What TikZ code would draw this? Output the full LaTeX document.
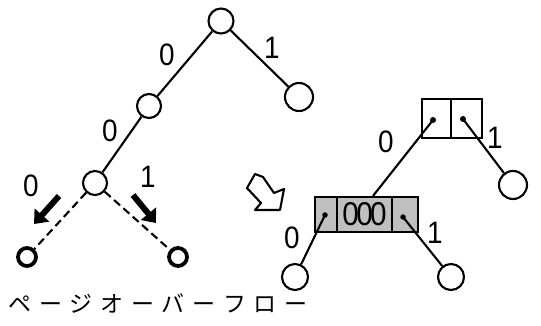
\documentclass[tikz,border=0pt]{standalone}
\usepackage{fontspec}
\setmainfont{Liberation Sans}
\newfontfamily\jp{Noto Sans CJK JP}
\usetikzlibrary{arrows.meta,calc}
\begin{document}
\begin{tikzpicture}[x=1pt,y=-1pt,
  vtx/.style={circle,draw,line width=2.1pt,inner sep=0pt,minimum size=#1},
  vtx/.default=25pt,
  leaf/.style={circle,draw,line width=3.8pt,inner sep=0pt,minimum size=18pt},
  edge/.style={line width=2.1pt},
  dashedge/.style={line width=2.1pt,dash pattern=on 8pt off 4.5pt},
  lbl/.style={font=\fontsize{31}{31}\selectfont,inner sep=0pt},
  cell/.style={draw,line width=2.1pt,inner sep=0pt,minimum height=#1},
  shade/.style={fill=black!25},
  dot/.style={circle,fill,inner sep=0pt,minimum size=6pt},
  fat/.style={line width=6pt,-{Triangle[length=12pt,width=19pt]}}
]
\useasboundingbox (0,0) rectangle (541,326);
% left tree
\node[vtx] (r) at (221,21) {};
\node[vtx=28pt] (r1) at (299,97) {};
\node[vtx=24pt] (a) at (149,106) {};
\node[vtx=24pt] (b) at (95,183) {};
\node[leaf] (l0) at (27,257) {};
\node[leaf] (l1) at (178,257) {};
\draw[edge] (r) -- (r1);
\draw[edge] (r) -- (a);
\draw[edge] (a) -- (b);
\draw[dashedge] (b) -- (l0);
\draw[dashedge] (b) -- (l1);
\node[lbl] (t0) at (167,55) {\scalebox{0.9}[1]{0}};
\node[lbl] (t1) at (272,48) {\scalebox{0.9}[1]{1}};
\node[lbl] (t2) at (110,131) {\scalebox{0.9}[1]{0}};
\node[lbl] (t3) at (31,186) {\scalebox{0.9}[1]{0}};
\node[lbl] (t4) at (148,177) {\scalebox{0.9}[1]{1}};
\coordinate (fa0) at (59,196);
\coordinate (fa1) at (34,224);
\coordinate (fb0) at (133,195);
\coordinate (fb1) at (156,223);
\draw[fat] (fa0) -- (fa1);
\draw[fat] (fb0) -- (fb1);
% hollow arrow
\draw[line width=2.1pt,line join=round,fill=white]
  (255,174) -- (263,177) -- (274,193) -- (284,189) -- (280,210)
  -- (255,210) -- (261,203) -- (247,188) -- cycle;
% right tree
\node[cell=39pt,minimum width=29pt] (tl) at (436.5,118.5) {};
\node[cell=39pt,minimum width=31pt] (tr) at (466.5,118.5) {};
\node[dot] (d1) at (433,120) {};
\node[dot] (d2) at (463,119) {};
\node[cell=35pt,minimum width=22pt,shade] (c1) at (326,214.5) {};
\node[cell=35pt,minimum width=55pt,shade] (c2) at (364.5,214.5) {};
\node[cell=35pt,minimum width=26pt,shade] (c3) at (405,214.5) {};
\node[dot,minimum size=5.5pt] (d3) at (325,215) {};
\node[dot,minimum size=5.5pt] (d4) at (403,217) {};
\node[inner sep=0pt,font=\fontsize{33}{33}\selectfont] (z) at (364.5,214) {\scalebox{0.9}[1]{0\kern-3pt0\kern-3pt0}};
\node[vtx=28pt] (rc) at (513,185) {};
\node[vtx=26pt] (lc0) at (295,277) {};
\node[vtx=26pt] (lc1) at (451,277) {};
\draw[edge] (d1.center) -- ([xshift=8.5pt]c2.north);
\draw[edge] (d2.center) -- (rc);
\draw[edge] (d3.center) -- (lc0);
\draw[edge] (d4.center) -- (lc1);
\node[lbl] (u0) at (386,142) {\scalebox{0.9}[1]{0}};
\node[lbl] (u1) at (495,138) {\scalebox{0.9}[1]{1}};
\node[lbl] (u2) at (292,238) {\scalebox{0.9}[1]{0}};
\node[lbl] (u3) at (435,233) {\scalebox{0.9}[1]{1}};
% caption
\node[inner sep=0pt,font=\jp\fontsize{23}{23}\selectfont] (cap) at (158,303)
  {ペ\hspace{7.7pt}ー\hspace{7.7pt}ジ\hspace{7.7pt}オ\hspace{7.7pt}ー\hspace{7.7pt}バ\hspace{7.7pt}ー\hspace{7.7pt}フ\hspace{7.7pt}ロ\hspace{7.7pt}ー};
\end{tikzpicture}
\end{document}
